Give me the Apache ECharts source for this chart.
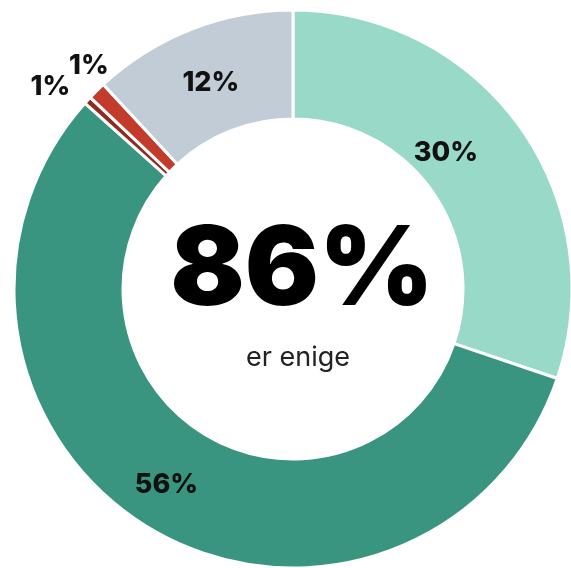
<!DOCTYPE html>
<html>
<head>
<meta charset="utf-8">
<script src="https://cdn.jsdelivr.net/npm/echarts@6/dist/echarts.min.js"></script>
<style>
html,body{margin:0;padding:0;background:#fff;}
#c{width:571px;height:568px;}
</style>
</head>
<body>
<div id="c"></div>
<script>
// Data
const categories = ['A', 'B', 'C', 'D', 'E'];
const values = [30.2, 56.4, 0.45, 1.05, 11.9];
const labelTexts = ['30%', '56%', '1%', '1%', '12%'];
const colors = ['#98d9c8', '#3a9580', '#8f2b1f', '#c23b2b', '#c1ccd7'];
const centerValue = '86%';
const centerCaption = 'er enige';
// label nudges (px) relative to the default inside position
const labelShift = [[-32, -4], [-12, -1], [-75, -48], [-44, -62], [1, 6]];

const chart = echarts.init(document.getElementById('c'), null, {renderer: 'canvas'});
const FONT = 'Inter, "Noto Sans", sans-serif';
chart.setOption({
  animation: false,
  backgroundColor: '#ffffff',
  series: [{
    type: 'pie',
    center: [293, 289],
    radius: [170, 279],
    startAngle: 90,
    clockwise: true,
    avoidLabelOverlap: false,
    itemStyle: {borderColor: '#ffffff', borderWidth: 3},
    label: {
      show: true,
      position: 'inside',
      formatter: p => labelTexts[p.dataIndex],
      fontFamily: FONT,
      fontWeight: 800,
      fontSize: 27,
      color: '#111111'
    },
    labelLine: {show: false},
    labelLayout: function (p) {
      const s = labelShift[p.dataIndex];
      return {dx: s[0], dy: s[1]};
    },
    emphasis: {disabled: true},
    data: categories.map((c, i) => ({name: c, value: values[i], itemStyle: {color: colors[i]}}))
  }],
  graphic: [
    {type: 'text', x: 302, y: 272, style: {text: centerValue, font: '900 110px ' + FONT, fill: '#000', textAlign: 'center', textVerticalAlign: 'middle'}},
    {type: 'text', x: 298, y: 358, style: {text: centerCaption, font: '400 27px ' + FONT, fill: '#222', textAlign: 'center', textVerticalAlign: 'middle'}}
  ]
});
</script>
</body>
</html>
